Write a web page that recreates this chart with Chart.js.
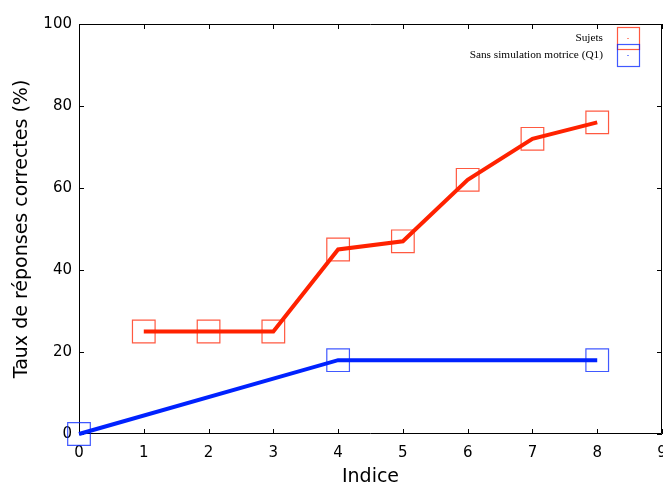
<!doctype html>
<html lang="fr">
  <head>
    <meta charset="utf-8">
    <title>Taux de réponses correctes</title>
    <style>
      * { margin: 0; padding: 0; }
      body { background: white; }
      #myChart { display: block; }
    </style>
  </head>
  <body>
    <canvas id="myChart" width="663" height="483"></canvas>
    <script src="https://cdn.jsdelivr.net/npm/chart.js/dist/chart.umd.min.js"></script>
    <script>
    // data
    const sujetsX = [1, 2, 3, 4, 5, 6, 7, 8];
    const sujetsY = [25, 25, 25, 45, 47, 62, 72, 76];
    const q1X = [0, 4, 8];
    const q1Y = [0, 18, 18];
    const xTicks = [0, 1, 2, 3, 4, 5, 6, 7, 8, 9];
    const yTicks = [0, 20, 40, 60, 80, 100];
    const seriesNames = ['Sujets', 'Sans simulation motrice (Q1)'];

    const red = 'rgb(255, 34, 0)';
    const redEdge = 'rgba(255, 34, 0, 0.75)';
    const blue = 'rgb(0, 34, 255)';
    const blueEdge = 'rgba(0, 34, 255, 0.75)';

    const toPoints = (xs, ys) => xs.map((x, i) => ({ x: x, y: ys[i] }));

    // line on top, hollow square markers below
    const lineSet = (label, pts, color) => ({
      label: label, data: pts, borderColor: color, borderWidth: 4,
      pointRadius: 0, pointHoverRadius: 0, tension: 0, fill: false,
      clip: false, order: 0
    });
    const markerSet = (label, pts, edge) => ({
      label: label, data: pts, showLine: false, pointStyle: 'rect',
      pointRadius: 16, pointHoverRadius: 16, pointBorderWidth: 1.2,
      pointBorderColor: edge, pointBackgroundColor: 'rgba(0,0,0,0)',
      clip: false, order: 1
    });

    // frame with inward ticks on all four sides
    const frame = {
      id: 'frame',
      beforeDatasetsDraw(chart) {
        const { ctx, chartArea: { top, bottom, left, right }, scales: { x, y } } = chart;
        const tl = 5;
        ctx.save();
        ctx.strokeStyle = '#000';
        ctx.lineWidth = 1;
        ctx.beginPath();
        ctx.rect(left + 0.5, top + 0.5, right - left - 1, bottom - top - 1);
        for (const v of xTicks) {
          const px = Math.round(x.getPixelForValue(v)) + 0.5;
          ctx.moveTo(px, bottom); ctx.lineTo(px, bottom - tl);
          ctx.moveTo(px, top); ctx.lineTo(px, top + tl);
        }
        for (const v of yTicks) {
          const py = Math.round(y.getPixelForValue(v)) + 0.5;
          ctx.moveTo(left, py); ctx.lineTo(left + tl, py);
          ctx.moveTo(right, py); ctx.lineTo(right - tl, py);
        }
        ctx.stroke();
        ctx.restore();
      }
    };

    // legend in the top right corner
    const legendBox = {
      id: 'legendBox',
      afterDraw(chart) {
        const { ctx } = chart;
        const items = [
          { text: seriesNames[0], edge: redEdge, color: red, cy: 38 },
          { text: seriesNames[1], edge: blueEdge, color: blue, cy: 55 }
        ];
        ctx.save();
        ctx.font = '11.3px "Liberation Serif", "DejaVu Serif", serif';
        ctx.textAlign = 'right';
        ctx.textBaseline = 'middle';
        for (const it of items) {
          ctx.fillStyle = '#000';
          ctx.fillText(it.text, 603, it.cy);
          ctx.strokeStyle = it.edge;
          ctx.lineWidth = 1.2;
          ctx.strokeRect(617.5, it.cy - 10.5, 22, 22);
          ctx.fillStyle = it.color;
          ctx.fillRect(627.5, it.cy, 1, 1);
        }
        ctx.restore();
      }
    };

    const tickFont = { family: '"DejaVu Sans", sans-serif', size: 15 };
    const titleFont = { family: '"DejaVu Sans", sans-serif', size: 19 };

    const config = {
      type: 'line',
      data: {
        datasets: [
          lineSet(seriesNames[0], toPoints(sujetsX, sujetsY), red),
          lineSet(seriesNames[1], toPoints(q1X, q1Y), blue),
          markerSet(seriesNames[0], toPoints(sujetsX, sujetsY), redEdge),
          markerSet(seriesNames[1], toPoints(q1X, q1Y), blueEdge)
        ]
      },
      options: {
        responsive: false,
        animation: false,
        events: [],
        layout: { autoPadding: false, padding: { top: 24, right: 1, left: 0, bottom: 0 } },
        scales: {
          x: {
            type: 'linear', min: 0, max: 9,
            grid: { display: false, drawTicks: false },
            border: { display: false },
            ticks: {
              stepSize: 1, autoSkip: false, maxRotation: 0,
              color: '#000', font: tickFont, padding: 10
            },
            title: {
              display: true, text: 'Indice', color: '#000',
              font: titleFont, padding: { top: 0, bottom: -5 }
            },
            afterFit(scale) {
              scale.height = 49;
              scale.paddingLeft = 0;
              scale.paddingRight = 0;
            }
          },
          y: {
            min: 0, max: 100,
            grid: { display: false, drawTicks: false },
            border: { display: false },
            ticks: { stepSize: 20, color: '#000', font: tickFont, padding: 7 },
            title: {
              display: true, text: 'Taux de réponses correctes (%)', color: '#000',
              font: titleFont, padding: { top: 11, bottom: 0 }
            },
            afterFit(scale) {
              scale.width = 79;
              scale.paddingTop = 0;
              scale.paddingBottom = 0;
            }
          }
        },
        plugins: {
          legend: { display: false },
          tooltip: { enabled: false }
        }
      },
      plugins: [frame, legendBox]
    };

    const myChart = new Chart(document.getElementById('myChart'), config);
    </script>
  </body>
</html>
